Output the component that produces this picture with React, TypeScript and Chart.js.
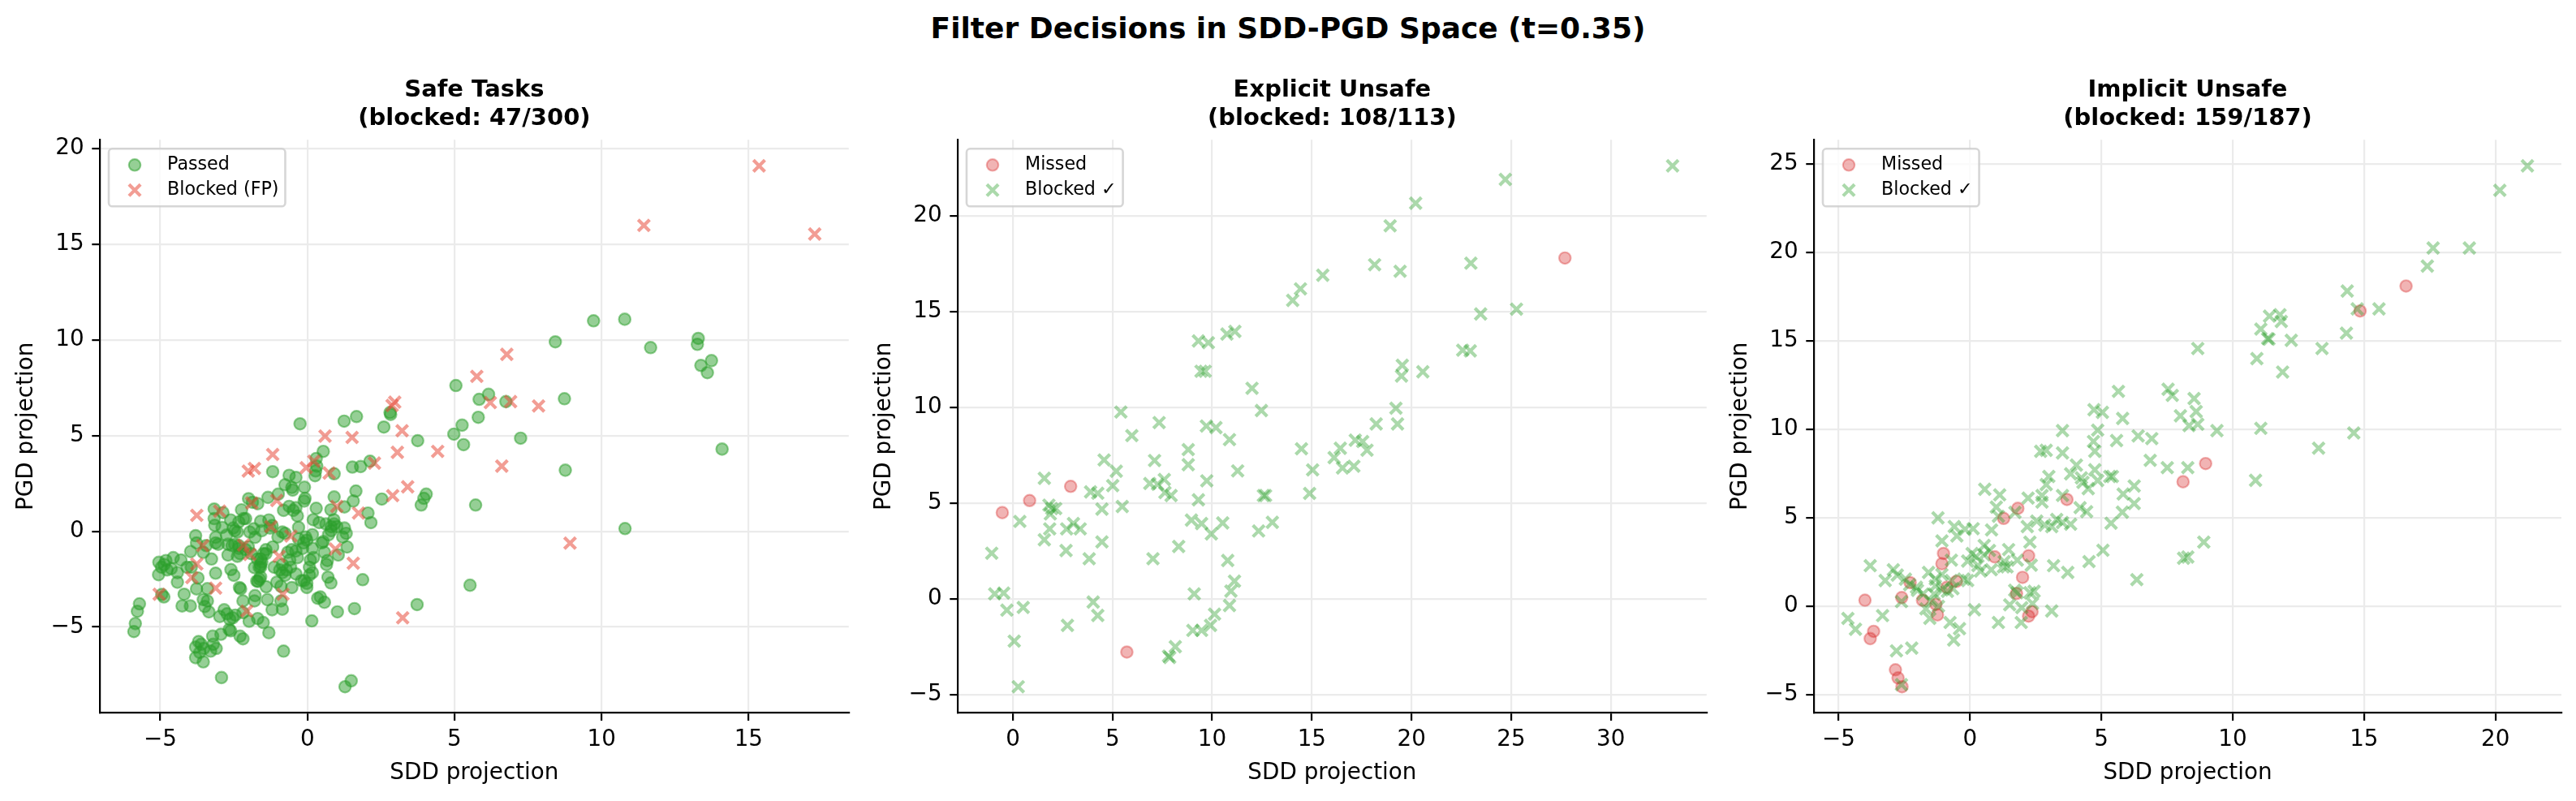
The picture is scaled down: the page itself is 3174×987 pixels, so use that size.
import React, { useEffect, useRef } from 'react';
import { Chart, registerables } from 'chart.js';

Chart.register(...registerables);

type Pt = [number, number];

// ---- Safe tasks: passed (green circles) and false-positive blocks (red crosses)
const safePassed: Pt[] = [
  [5.05, 7.61], [-0.25, 5.61], [1.25, 5.75], [1.67, 5.99], [2.81, 6.2], [2.83, 6.1], [2.6, 5.44], [3.75, 4.73],
  [4.98, 5.07], [5.26, 5.54], [5.31, 4.52], [0.54, 4.17], [-1.18, 3.11], [0.3, 3.8], [0.32, 3.4], [0.28, 3.15],
  [0.26, 2.9], [-0.62, 2.92], [-0.39, 2.81], [-0.76, 2.43], [-0.53, 2.29], [-0.5, 2.15], [0.91, 3.0], [1.53, 3.35],
  [1.81, 3.38], [2.13, 3.66], [1.65, 2.1], [1.56, 1.58], [2.53, 1.68], [3.87, 1.37], [3.96, 1.72], [4.04, 1.94],
  [0.91, 1.79], [0.8, 1.12], [1.26, 1.27], [2.06, 0.95], [2.16, 0.45], [-0.08, 1.72], [-0.11, 1.58], [-0.62, 1.3],
  [-0.39, 1.23], [-0.81, 1.09], [-0.48, 1.09], [-0.34, 0.8], [-0.99, 1.94], [-1.34, 1.77], [-1.69, 1.44], [-1.87, 1.51],
  [-3.17, 1.16], [-2.87, 0.97], [-2.24, 1.12], [-2.17, 0.66], [-3.17, 0.66], [-3.15, 0.31], [-2.61, 0.59], [-2.52, 0.17],
  [-2.33, 0.49], [-2.1, 0.66], [-2.47, 0.03], [-2.38, -0.04], [-1.82, 0.13], [-1.55, 0.03], [-1.59, 0.52], [-1.31, 0.59],
  [-1.27, 0.17], [-1.96, -0.04], [-1.78, -0.32], [-0.76, -0.11], [-0.85, -0.04], [0.4, 0.45], [0.63, 0.38], [0.81, 0.24],
  [0.91, 0.38], [1.0, 0.24], [0.81, 0.03], [0.72, -0.18], [1.26, 0.17], [1.32, -0.11], [0.17, -0.18], [-0.06, -0.3],
  [-0.02, -0.47], [-0.13, -0.61], [-0.16, -0.89], [0.54, -0.54], [0.49, -0.61], [1.35, -0.82], [0.17, -0.89], [0.21, -1.38],
  [0.07, -1.88], [0.58, -1.1], [0.68, -1.53], [0.65, -1.74], [1.05, -1.24], [-0.39, -1.03], [-0.34, -1.38], [-0.67, -1.1],
  [-0.53, -0.96], [-1.18, -0.82], [-1.41, -0.96], [-1.5, -1.17], [-1.59, -1.45], [-1.59, -1.74], [-1.59, -1.88], [-2.33, -0.89],
  [-2.29, -1.17], [-2.38, -1.31], [-2.56, -0.75], [-2.7, -0.68], [-2.47, -0.68], [-2.33, -0.75], [-2.1, -0.96], [-2.01, -0.82],
  [-1.91, -1.17], [-2.7, -1.24], [-3.12, -0.32], [-3.12, -0.61], [-3.03, -0.68], [-3.44, -0.75], [-3.54, -1.1], [-3.8, -0.23],
  [-3.77, -0.61], [-3.97, -1.06], [-3.26, -1.45], [-4.56, -1.38], [-5.05, -1.62], [-4.96, -1.88], [-4.87, -1.74], [-4.77, -2.02],
  [-4.63, -1.95], [-4.81, -1.53], [-5.06, -2.27], [-4.42, -2.16], [-4.42, -2.66], [-4.09, -1.88], [-3.95, -1.88], [-3.72, -2.44],
  [-3.12, -2.19], [-3.77, -3.01], [-4.19, -3.29], [-4.88, -3.43], [-4.95, -3.3], [-5.71, -3.79], [-5.78, -4.18], [-5.85, -4.82],
  [-5.9, -5.24], [-4.26, -3.9], [-3.98, -3.9], [-3.54, -3.57], [-3.4, -3.64], [-3.49, -3.93], [-3.35, -4.21], [-2.98, -4.45],
  [-2.83, -4.1], [-2.73, -4.31], [-2.64, -4.6], [-2.54, -4.52], [-2.45, -4.38], [-2.94, -5.38], [-2.66, -5.13], [-2.61, -5.2],
  [-2.29, -5.48], [-2.19, -5.62], [-2.19, -4.25], [-2.19, -3.64], [-1.78, -3.36], [-1.8, -3.64], [-1.98, -4.7], [-1.69, -4.56],
  [-1.5, -4.77], [-1.36, -3.57], [-1.31, -5.3], [-0.9, -3.64], [-0.85, -4.07], [-0.81, -6.26], [-2.31, -2.94], [-2.27, -3.01],
  [-1.72, -2.6], [-1.63, -2.5], [-1.59, -2.38], [-1.68, -2.62], [-1.7, -1.45], [-1.64, -1.88], [-1.55, -1.6], [-1.41, -1.17],
  [-1.04, -2.66], [-0.9, -2.87], [-0.53, -2.94], [-1.13, -1.88], [-0.94, -2.02], [-0.85, -2.16], [-0.71, -2.02], [-0.57, -1.88],
  [-0.85, -1.74], [-0.76, -2.3], [-0.39, -2.23], [-0.2, -2.58], [-0.02, -2.72], [0.07, -2.29], [0.17, -2.16], [-0.02, -2.94],
  [-0.11, -2.58], [0.35, -3.5], [0.44, -3.43], [0.58, -3.71], [0.8, -2.7], [1.02, -4.21], [1.6, -4.04], [1.88, -2.53],
  [0.15, -4.68], [3.73, -3.83], [-3.8, -6.05], [-3.7, -5.76], [-3.61, -5.9], [-3.52, -6.12], [-3.8, -6.6], [-3.54, -6.82],
  [-3.66, -6.33], [-3.29, -6.26], [-3.2, -5.9], [-3.1, -6.12], [-3.22, -5.48], [-2.92, -7.64], [1.49, -7.81], [1.28, -8.12],
  [9.73, 10.99], [10.79, 11.07], [8.43, 9.89], [11.67, 9.59], [13.29, 10.07], [13.26, 9.76], [13.74, 8.91], [13.38, 8.66],
  [13.6, 8.28], [6.16, 7.15], [5.84, 6.89], [6.75, 6.77], [8.74, 6.92], [5.81, 5.95], [7.25, 4.86], [14.1, 4.29],
  [8.77, 3.19], [5.72, 1.37], [10.8, 0.14], [5.53, -2.82], [-2.9, 0.2], [-2.75, -0.2], [-1.2, 0.3], [-1.0, -0.3],
  [-0.3, -0.4], [0.2, 0.6], [0.3, 1.2], [0.1, -1.5], [-0.6, -1.5], [-1.8, -1.9], [-2.6, -2.0], [-3.4, -3.0],
  [-0.3, 0.2], [1.2, -0.3], [-4.3, -1.5], [-2.0, 1.7], [0.7, -2.4], [-1.2, -4.1], [-2.5, -2.3], [-1.4, -2.9],
  [0.9, 0.6], [-0.1, 2.3],
];

const safeBlocked: Pt[] = [
  [2.88, 6.57], [2.97, 6.74], [0.6, 4.97], [1.52, 4.9], [3.22, 5.25], [3.06, 4.12], [4.43, 4.17], [-1.18, 4.01],
  [-2.01, 3.14], [-1.8, 3.28], [0.22, 3.66], [-0.04, 3.32], [0.74, 3.04], [2.28, 3.56], [-1.04, 1.61], [-1.89, 1.47],
  [2.9, 1.86], [3.41, 2.32], [1.0, 1.3], [1.74, 0.95], [-3.76, 0.83], [-2.98, 1.05], [-1.24, 0.24], [-0.56, -0.25],
  [-2.17, -0.72], [-3.56, -0.75], [-1.96, -1.21], [0.95, -0.93], [-0.96, -1.31], [1.56, -1.67], [-3.76, -1.71], [-3.93, -2.42],
  [-3.12, -2.97], [-5.04, -3.29], [-0.83, -3.29], [-2.06, -4.17], [3.24, -4.52], [15.36, 19.08], [11.44, 15.97], [17.25, 15.52],
  [6.78, 9.24], [5.76, 8.09], [6.22, 6.72], [6.91, 6.77], [7.86, 6.54], [6.61, 3.4], [8.93, -0.62],
];

// ---- Explicit unsafe: missed (red circles) and correctly blocked (green crosses)
const explicitMissed: Pt[] = [
  [-0.53, 4.51], [0.84, 5.14], [2.9, 5.88], [5.72, -2.77], [27.7, 17.8],
];

const explicitBlocked: Pt[] = [
  [9.31, 13.47], [9.81, 13.38], [10.74, 13.83], [11.14, 13.97], [9.44, 11.89], [9.65, 11.89], [12.0, 11.0], [12.47, 9.84],
  [5.42, 9.76], [7.34, 9.21], [5.97, 8.53], [9.71, 9.03], [10.19, 8.95], [10.87, 8.32], [8.8, 7.8], [8.8, 7.01],
  [4.58, 7.26], [5.19, 6.67], [7.11, 7.23], [11.28, 6.69], [9.73, 6.17], [1.58, 6.3], [5.01, 5.92], [3.9, 5.59],
  [4.26, 5.52], [6.87, 6.03], [7.26, 5.99], [7.6, 6.24], [7.63, 5.56], [7.94, 5.4], [9.31, 5.18], [12.57, 5.4],
  [12.68, 5.4], [1.81, 4.9], [1.95, 4.72], [2.15, 4.72], [1.88, 4.44], [4.47, 4.69], [5.49, 4.83], [0.35, 4.05],
  [1.85, 3.66], [2.7, 3.66], [3.04, 3.94], [3.38, 3.66], [8.96, 4.12], [9.47, 3.94], [9.96, 3.4], [10.53, 3.97],
  [12.33, 3.55], [13.02, 4.0], [1.58, 3.09], [4.47, 2.98], [2.67, 2.53], [3.83, 2.1], [7.03, 2.1], [8.32, 2.74],
  [-1.06, 2.39], [10.78, 2.01], [11.12, 0.93], [10.94, 0.41], [9.1, 0.27], [10.87, -0.34], [-0.91, 0.27], [-0.46, 0.31],
  [-0.3, -0.58], [0.52, -0.44], [4.03, -0.16], [4.26, -0.86], [2.74, -1.38], [10.12, -0.79], [9.92, -1.38], [9.03, -1.64],
  [9.47, -1.64], [8.15, -2.49], [7.81, -2.98], [7.87, -3.05], [0.07, -2.2], [0.27, -4.58], [33.1, 22.61], [24.71, 21.9],
  [20.21, 20.66], [18.93, 19.48], [18.15, 17.45], [19.43, 17.11], [15.55, 16.9], [14.43, 16.19], [14.04, 15.59], [22.98, 17.53],
  [23.47, 14.88], [25.27, 15.13], [22.57, 12.99], [22.95, 12.95], [19.54, 12.2], [19.5, 11.64], [20.57, 11.86], [19.22, 9.96],
  [19.3, 9.14], [18.23, 9.14], [14.48, 7.84], [16.43, 7.87], [16.12, 7.38], [17.18, 8.29], [17.55, 8.22], [17.77, 7.77],
  [16.54, 6.84], [17.11, 6.93], [15.04, 6.74], [14.89, 5.51],
];

// ---- Implicit unsafe
const implicitMissed: Pt[] = [
  [3.69, 6.03], [1.82, 5.53], [1.28, 4.96], [-1.01, 2.98], [-1.07, 2.4], [0.94, 2.79], [2.23, 2.85], [2.0, 1.63],
  [-0.52, 1.4], [-0.88, 1.07], [-2.28, 1.33], [-4.0, 0.34], [-2.6, 0.49], [-1.81, 0.34], [-1.3, 0.11], [-1.24, -0.49],
  [1.77, 0.72], [2.36, -0.31], [2.23, -0.56], [-3.67, -1.42], [-3.8, -1.83], [-2.84, -3.59], [-2.74, -4.05], [-2.59, -4.55],
  [16.6, 18.09], [14.85, 16.68], [8.97, 8.06], [8.11, 7.03],
];

const implicitBlocked: Pt[] = [
  [5.65, 12.14], [4.72, 11.1], [5.04, 10.95], [5.81, 10.61], [4.86, 9.95], [3.52, 9.92], [6.4, 9.62], [6.92, 9.47],
  [4.7, 9.31], [4.75, 8.75], [2.69, 8.75], [2.9, 8.81], [3.52, 8.66], [5.58, 9.36], [6.86, 8.24], [4.05, 7.97],
  [3.83, 7.48], [3.0, 7.33], [2.9, 6.87], [4.75, 7.71], [4.24, 7.25], [4.5, 6.64], [4.86, 7.1], [5.32, 7.33],
  [5.42, 7.33], [6.25, 6.79], [5.83, 6.34], [6.25, 5.8], [5.8, 5.31], [5.37, 4.69], [4.19, 5.57], [4.44, 5.34],
  [3.52, 6.26], [2.74, 6.26], [2.74, 5.88], [2.21, 6.11], [0.56, 6.61], [1.13, 6.29], [1.0, 5.6], [1.08, 5.08],
  [1.71, 5.3], [2.18, 4.5], [2.54, 4.81], [2.85, 4.58], [3.11, 4.5], [3.52, 4.73], [3.83, 4.63], [0.82, 4.31],
  [2.28, 3.62], [5.06, 3.16], [4.53, 2.52], [3.18, 2.29], [3.72, 1.91], [6.35, 1.5], [-1.22, 4.99], [-0.6, 4.5],
  [-0.5, 3.97], [-0.19, 4.35], [0.12, 4.38], [-1.07, 3.69], [-0.71, 2.6], [-0.09, 2.55], [0.08, 2.98], [0.23, 2.79],
  [0.54, 3.43], [0.74, 3.15], [0.54, 2.9], [0.4, 1.99], [0.81, 2.06], [1.27, 2.22], [1.47, 3.2], [1.41, 2.22],
  [1.3, 2.52], [2.33, 2.32], [2.28, 0.76], [2.44, 0.84], [1.79, 0.76], [1.51, 0.08], [1.97, -0.08], [2.38, 0.15],
  [1.95, -0.92], [1.08, -0.92], [0.17, -0.2], [3.11, -0.27], [-3.8, 2.29], [-2.92, 2.06], [-2.77, 1.76], [-3.23, 1.45],
  [-2.46, 1.53], [-2.3, 1.22], [-1.58, 1.91], [-1.32, 1.53], [-1.07, 1.79], [-1.32, 1.15], [-0.71, 1.45], [-0.24, 1.53],
  [-0.09, 1.45], [-0.65, 0.99], [-0.86, 0.84], [-1.37, 0.69], [-1.06, 0.92], [-1.79, 0.69], [-2.04, 1.07], [-1.68, -0.15],
  [-1.53, -0.69], [-2.61, 0.26], [-3.33, -0.53], [-4.65, -0.69], [-4.36, -1.3], [-0.76, -0.92], [-0.4, -1.27], [-0.62, -1.91],
  [-2.8, -2.52], [-2.22, -2.37], [-2.61, -4.43], [-1.5, 0.3], [-1.2, 0.0], [1.7, 0.9], [1.8, 2.6], [0.3, 2.3],
  [-2.0, 0.9], [3.3, 4.9], [4.3, 7.0], [21.22, 24.88], [20.17, 23.5], [17.63, 20.24], [19.01, 20.24], [17.41, 19.22],
  [14.36, 17.81], [14.74, 16.8], [15.57, 16.8], [14.33, 15.43], [11.4, 16.39], [11.8, 16.47], [11.85, 16.09], [11.07, 15.66],
  [11.33, 15.12], [11.38, 15.09], [12.23, 15.02], [13.4, 14.56], [10.92, 13.99], [11.9, 13.23], [8.67, 14.56], [7.54, 12.26],
  [7.7, 11.91], [8.53, 11.73], [8.61, 11.0], [8.01, 10.76], [8.34, 10.2], [8.67, 10.28], [9.4, 9.92], [11.07, 10.05],
  [14.61, 9.79], [13.27, 8.93], [7.51, 7.83], [8.29, 7.83], [10.87, 7.11], [8.9, 3.62], [8.29, 2.78], [8.13, 2.71],
];

// ---- Tick positions per panel
const safeXTicks = [-5, 0, 5, 10, 15];
const safeYTicks = [-5, 0, 5, 10, 15, 20];
const explicitXTicks = [0, 5, 10, 15, 20, 25, 30];
const explicitYTicks = [-5, 0, 5, 10, 15, 20];
const implicitXTicks = [-5, 0, 5, 10, 15, 20];
const implicitYTicks = [-5, 0, 5, 10, 15, 20, 25];

const FONT = '"DejaVu Sans", "Liberation Sans", sans-serif';
const H = 987;
const AX_TOP = 172.3;
const AX_BOTTOM = 878.3;
const Y_BOX = 123;

const GREEN = '44,160,44';
const SALMON = '231,76,60';
const RED = '214,39,40';

type Marker = 'circle' | 'crossRot';
interface Series { label: string; points: Pt[]; rgb: string; alpha: number; marker: Marker; }
interface Panel {
  title: string[];
  series: Series[];
  xTicks: number[];
  yTicks: number[];
  left: number;
  width: number;
  axisRight: number;
}

const panels: Panel[] = [
  {
    title: ['Safe Tasks', '(blocked: 47/300)'],
    series: [
      { label: 'Passed', points: safePassed, rgb: GREEN, alpha: 0.5, marker: 'circle' },
      { label: 'Blocked (FP)', points: safeBlocked, rgb: SALMON, alpha: 0.55, marker: 'crossRot' },
    ],
    xTicks: safeXTicks, yTicks: safeYTicks, left: 0, width: 1060, axisRight: 1046,
  },
  {
    title: ['Explicit Unsafe', '(blocked: 108/113)'],
    series: [
      { label: 'Missed', points: explicitMissed, rgb: RED, alpha: 0.35, marker: 'circle' },
      { label: 'Blocked \u2713', points: explicitBlocked, rgb: GREEN, alpha: 0.4, marker: 'crossRot' },
    ],
    xTicks: explicitXTicks, yTicks: explicitYTicks, left: 1057, width: 1060, axisRight: 2103,
  },
  {
    title: ['Implicit Unsafe', '(blocked: 159/187)'],
    series: [
      { label: 'Missed', points: implicitMissed, rgb: RED, alpha: 0.35, marker: 'circle' },
      { label: 'Blocked \u2713', points: implicitBlocked, rgb: GREEN, alpha: 0.4, marker: 'crossRot' },
    ],
    xTicks: implicitXTicks, yTicks: implicitYTicks, left: 2112, width: 1062, axisRight: 3156,
  },
];

const CIRCLE_R = 7.2;
const CROSS_R = 10;
const CIRCLE_BW = 2.2;
const CROSS_BW = 4.2;

function limits(series: Series[], k: 0 | 1): [number, number] {
  let lo = Infinity;
  let hi = -Infinity;
  for (const s of series) for (const p of s.points) { lo = Math.min(lo, p[k]); hi = Math.max(hi, p[k]); }
  const m = (hi - lo) * 0.05;
  return [lo - m, hi + m];
}

const fmt = (v: number) => (v < 0 ? '\u2212' + Math.abs(v) : String(v));
const rgba = (rgb: string, a: number) => `rgba(${rgb},${a})`;

function drawMarker(ctx: CanvasRenderingContext2D, s: Series, x: number, y: number) {
  ctx.save();
  if (s.marker === 'circle') {
    ctx.beginPath();
    ctx.arc(x, y, CIRCLE_R, 0, Math.PI * 2);
    ctx.fillStyle = rgba(s.rgb, s.alpha);
    ctx.fill();
    ctx.lineWidth = CIRCLE_BW;
    ctx.strokeStyle = rgba(s.rgb, s.alpha);
    ctx.stroke();
  } else {
    const d = CROSS_R * Math.SQRT1_2;
    ctx.beginPath();
    ctx.moveTo(x - d, y - d);
    ctx.lineTo(x + d, y + d);
    ctx.moveTo(x + d, y - d);
    ctx.lineTo(x - d, y + d);
    ctx.lineWidth = CROSS_BW;
    ctx.strokeStyle = rgba(s.rgb, s.alpha);
    ctx.stroke();
  }
  ctx.restore();
}

// Legend box in the upper-left corner of the plot area
const boxLegend = {
  id: 'boxLegend',
  afterDraw(chart: any, _args: any, opts: any) {
    const series: Series[] = opts.series;
    if (!series) return;
    const { ctx, chartArea } = chart;
    const fs = 22.2;
    const x0 = chartArea.left + 11;
    const y0 = chartArea.top + 11;
    const rowH = 31;
    ctx.save();
    ctx.font = `${fs}px ${FONT}`;
    const tw = Math.max(...series.map((s) => ctx.measureText(s.label).width));
    const w = 71 + tw + 9;
    const h = rowH * series.length + 9;
    ctx.beginPath();
    ctx.roundRect(x0, y0, w, h, 4.4);
    ctx.fillStyle = 'rgba(255,255,255,0.8)';
    ctx.fill();
    ctx.lineWidth = 2.6;
    ctx.strokeStyle = 'rgba(204,204,204,0.8)';
    ctx.stroke();
    series.forEach((s, i) => {
      const cy = y0 + 4.5 + rowH / 2 + i * rowH;
      drawMarker(ctx, s, x0 + 32, cy);
      ctx.fillStyle = '#000';
      ctx.textBaseline = 'middle';
      ctx.textAlign = 'left';
      ctx.fillText(s.label, x0 + 72, cy);
    });
    ctx.restore();
  },
};

function ScatterPanel({ panel }: { panel: Panel }) {
  const ref = useRef<HTMLCanvasElement>(null);

  useEffect(() => {
    const canvas = ref.current;
    if (!canvas) return;
    const [xMin, xMax] = limits(panel.series, 0);
    const [yMin, yMax] = limits(panel.series, 1);
    const padRight = panel.left + panel.width - panel.axisRight;
    const tickFont = { family: FONT, size: 27.8 };
    const gridCfg = { color: '#ebebeb', lineWidth: 2.2, tickLength: 9.7, tickColor: '#000', tickWidth: 2.2 };

    const chart = new Chart(canvas, {
      type: 'scatter',
      data: {
        datasets: panel.series.map((s, i) => ({
          label: s.label,
          data: s.points.map(([x, y]) => ({ x, y })),
          pointStyle: s.marker,
          pointRadius: s.marker === 'circle' ? CIRCLE_R : CROSS_R,
          pointBorderWidth: s.marker === 'circle' ? CIRCLE_BW : CROSS_BW,
          backgroundColor: rgba(s.rgb, s.alpha),
          borderColor: rgba(s.rgb, s.alpha),
          order: panel.series.length - i,
        })),
      },
      options: {
        responsive: false,
        animation: false,
        events: [],
        layout: { padding: { left: 0, right: padRight, top: 0, bottom: 0 } },
        scales: {
          x: {
            type: 'linear',
            min: xMin,
            max: xMax,
            afterBuildTicks: (s: any) => { s.ticks = panel.xTicks.map((v) => ({ value: v })); },
            afterFit: (s: any) => { s.height = H - AX_BOTTOM; },
            ticks: { callback: (v: any) => fmt(Number(v)), font: tickFont, color: '#000', padding: 7, maxRotation: 0, autoSkip: false },
            grid: gridCfg,
            border: { color: '#000', width: 2.2 },
            title: { display: true, text: 'SDD projection', font: { family: FONT, size: 27.8 }, color: '#000', padding: { top: 0, bottom: 18 } },
          },
          y: {
            type: 'linear',
            min: yMin,
            max: yMax,
            afterBuildTicks: (s: any) => { s.ticks = panel.yTicks.map((v) => ({ value: v })); },
            afterFit: (s: any) => { s.width = Y_BOX; },
            ticks: { callback: (v: any) => fmt(Number(v)), font: tickFont, color: '#000', padding: 9.7, autoSkip: false },
            grid: gridCfg,
            border: { color: '#000', width: 2.2 },
            title: { display: true, text: 'PGD projection', font: { family: FONT, size: 27.8 }, color: '#000', padding: { top: 16, bottom: 0 } },
          },
        },
        plugins: {
          legend: { display: false },
          tooltip: { enabled: false },
          title: {
            display: true,
            text: panel.title,
            fullSize: false,
            color: '#000',
            font: { family: FONT, size: 29, weight: 'bold', lineHeight: 1.2 },
            padding: { top: 94.3, bottom: AX_TOP - 94.3 - 2 * 29 * 1.2 },
          },
          boxLegend: { series: panel.series },
        } as any,
      },
      plugins: [boxLegend],
    } as any);
    return () => chart.destroy();
  }, [panel]);

  return (
    <canvas
      ref={ref}
      width={panel.width}
      height={H}
      style={{ position: 'absolute', left: panel.left, top: 0, width: panel.width, height: H }}
    />
  );
}

export default function App() {
  return (
    <div style={{ position: 'absolute', left: 0, top: 0, width: 3174, height: H, background: '#fff', overflow: 'hidden' }}>
      <div
        style={{
          position: 'absolute', left: 0, top: 16.6, width: 3174, textAlign: 'center',
          fontFamily: FONT, fontWeight: 'bold', fontSize: 36, lineHeight: '36px', color: '#000',
        }}
      >
        Filter Decisions in SDD-PGD Space (t=0.35)
      </div>
      {panels.map((p, i) => (
        <ScatterPanel key={i} panel={p} />
      ))}
    </div>
  );
}
